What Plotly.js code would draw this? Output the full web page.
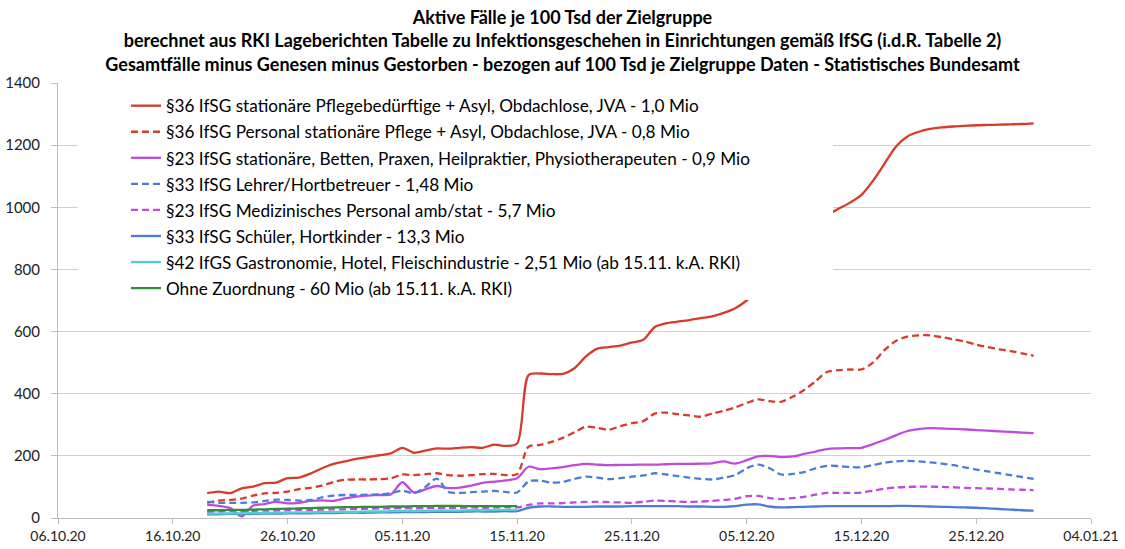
<!DOCTYPE html>
<html><head><meta charset="utf-8">
<script src="https://cdn.plot.ly/plotly-3.0.1.min.js"></script>
<style>html,body{margin:0;padding:0;background:#fff;} #chart{width:1125px;height:549px;}</style>
</head><body><div id="chart"></div>
<script>
const dates = ['2020-10-19','2020-10-20','2020-10-21','2020-10-22','2020-10-23','2020-10-24','2020-10-25','2020-10-26','2020-10-27','2020-10-28',
'2020-10-29','2020-10-30','2020-10-31','2020-11-01','2020-11-02','2020-11-03','2020-11-04','2020-11-05','2020-11-06','2020-11-07',
'2020-11-08','2020-11-09','2020-11-10','2020-11-11','2020-11-12','2020-11-13','2020-11-14','2020-11-15',
'2020-11-16','2020-11-17','2020-11-18','2020-11-19','2020-11-20','2020-11-21','2020-11-22','2020-11-23','2020-11-24','2020-11-25',
'2020-11-26','2020-11-27','2020-11-28','2020-11-29','2020-11-30','2020-12-01','2020-12-02','2020-12-03','2020-12-04','2020-12-05',
'2020-12-06','2020-12-07','2020-12-08','2020-12-09','2020-12-10','2020-12-11','2020-12-12','2020-12-13','2020-12-14','2020-12-15',
'2020-12-16','2020-12-17','2020-12-18','2020-12-19','2020-12-20','2020-12-21','2020-12-22','2020-12-23','2020-12-24','2020-12-25',
'2020-12-26','2020-12-27','2020-12-28','2020-12-29','2020-12-30'];

const seriesNames = [
  '§36 IfSG stationäre Pflegebedürftige + Asyl, Obdachlose, JVA - 1,0 Mio',
  '§36 IfSG Personal stationäre Pflege + Asyl, Obdachlose, JVA - 0,8 Mio',
  '§23 IfSG stationäre, Betten, Praxen, Heilpraktier, Physiotherapeuten - 0,9 Mio',
  '§33 IfSG Lehrer/Hortbetreuer - 1,48 Mio',
  '§23 IfSG Medizinisches Personal amb/stat - 5,7 Mio',
  '§33 IfSG Schüler, Hortkinder - 13,3 Mio',
  '§42 IfGS Gastronomie, Hotel, Fleischindustrie - 2,51 Mio (ab 15.11. k.A. RKI)',
  'Ohne Zuordnung - 60 Mio (ab 15.11. k.A. RKI)'
];

const pflegeStationaer = [80,85,80,95,101,112,114,128,130,143,
 160,174,182,190,196,202,208,226,210,217,
 224,223,226,228,226,236,232,240,
 460,465,463,464,482,520,545,550,555,565,
 574,615,627,632,637,643,649,660,675,700,
 735,775,820,865,910,945,975,995,1015,1040,
 1085,1140,1195,1228,1243,1252,1257,1260,1262,1264,
 1265,1266,1267,1268,1270];
const pflegePersonal = [49,56,58,62,72,79,81,85,93,97,
 104,116,123,124,124,125,128,140,138,141,
 144,138,136,138,141,142,138,141,
 230,235,245,258,276,294,290,284,296,305,
 312,336,339,334,330,326,336,345,356,370,
 382,376,374,390,412,440,470,476,478,478,
 500,540,570,584,588,588,582,575,568,558,
 550,543,537,530,522];
const stationaer23 = [42,39,32,5,40,45,52,47,49,55,
 57,55,63,69,72,74,76,115,82,92,
 103,96,98,104,113,117,121,128,
 165,157,160,164,170,174,172,170,171,171,
 172,172,173,174,174,175,176,182,175,186,
 198,200,196,198,206,214,222,224,225,226,
 238,251,266,280,286,289,288,287,285,283,
 281,279,277,275,273];
const lehrer = [52,49,49,49,50,55,59,58,56,58,
 66,72,74,74,75,76,80,88,80,100,
 127,84,81,83,85,87,84,82,
 118,120,114,116,126,133,130,125,128,133,
 137,144,140,135,130,126,124,130,138,160,
 172,160,140,142,148,160,168,167,164,163,
 170,178,182,184,182,179,175,170,163,156,
 150,144,138,132,126];
const medPersonal = [20,21,22,21,23,24,24,25,26,25,
 27,28,28,29,30,31,31,32,31,32,
 33,32,33,34,33,34,35,34,
 42,47,47,48,50,52,52,51,50,49,
 52,56,55,53,52,53,55,58,62,70,
 71,64,61,64,68,75,81,81,81,82,
 88,94,98,100,101,101,100,99,97,96,
 95,94,92,91,90];
const schueler = [12,12,13,13,13,14,14,15,15,15,
 16,16,17,17,17,18,18,19,19,19,
 20,20,20,21,21,21,22,22,
 33,37,37,36,36,36,37,37,37,38,
 38,38,38,38,37,37,36,36,38,43,
 44,37,34,35,36,37,38,38,38,38,
 38,38,39,39,38,37,36,35,34,33,
 31,29,27,25,24];
const gastro = [14,14,15,15,16,16,17,17,18,18,
 19,19,20,20,21,21,22,23,22,23,
 24,24,24,25,25,26,26,26,
 null,null,null,null,null,null,null,null,null,null,
 null,null,null,null,null,null,null,null,null,null,
 null,null,null,null,null,null,null,null,null,null,
 null,null,null,null,null,null,null,null,null,null,
 null,null,null,null,null];
const ohneZuordnung = [25,25,26,26,27,28,29,30,31,32,
 33,34,35,35,36,36,37,37,38,38,
 39,39,39,38,38,38,38,38,
 null,null,null,null,null,null,null,null,null,null,
 null,null,null,null,null,null,null,null,null,null,
 null,null,null,null,null,null,null,null,null,null,
 null,null,null,null,null,null,null,null,null,null,
 null,null,null,null,null];

const yTickVals = [0,200,400,600,800,1000,1200,1400];

const seriesValues = [pflegeStationaer, pflegePersonal, stationaer23, lehrer, medPersonal, schueler, gastro, ohneZuordnung];
const colors = ['#d83b2a','#d83b2a','#bf4bdc','#4a7ed6','#bf4bdc','#4a7ed6','#4fd0d6','#2f8f3a'];
const dashes = ['solid','7px,4px','solid','7px,4px','7px,4px','solid','solid','solid'];

const traces = seriesValues.map((vals, i) => ({
  type: 'scatter', mode: 'lines', x: dates, y: vals, name: seriesNames[i],
  legendgroup: 'g' + i,
  line: {color: colors[i], width: 2.3, dash: dashes[i], shape: 'spline', smoothing: 0.8},
  connectgaps: false, hoverinfo: 'skip'
}));

// plot area px: x 58.5..1090.7, y 83..518
const L = 58, R = 34, T = 83, B = 31;
const pw = 1125 - L - R, ph = 549 - T - B;
const px2x = p => (p - L) / pw;
const py2y = p => (549 - B - p) / ph;

const layout = {
  width: 1125, height: 549,
  margin: {l: L, r: R, t: T, b: B, pad: 0},
  paper_bgcolor: '#ffffff', plot_bgcolor: '#ffffff',
  font: {family: 'Lato, sans-serif', color: '#000000', size: 15},
  title: {
    text: '<b>Aktive Fälle je 100 Tsd der Zielgruppe<br>berechnet aus RKI Lageberichten Tabelle zu Infektionsgeschehen in Einrichtungen gemäß IfSG (i.d.R. Tabelle 2)<br>Gesamtfälle minus Genesen minus Gestorben - bezogen auf 100 Tsd je Zielgruppe Daten - Statistisches Bundesamt</b>',
    x: 0.5, xanchor: 'center', xref: 'container',
    y: 1 - 24/549, yanchor: 'top', yref: 'container',
    font: {family: 'Lato, sans-serif', size: 18, color: '#000000'}
  },
  xaxis: {
    type: 'date', range: ['2020-10-06', '2021-01-04'],
    tick0: '2020-10-06', dtick: 864000000, tickformat: '%d.%m.%y',
    showgrid: false, showline: true, linecolor: '#bdbdbd', linewidth: 1,
    ticks: 'outside', ticklen: 5, tickcolor: '#bdbdbd',
    tickfont: {family: 'Lato, sans-serif', size: 14, color: '#222222'},
    zeroline: false, fixedrange: true
  },
  yaxis: {
    range: [0, 1400], tickvals: yTickVals, ticktext: yTickVals.map(String),
    showgrid: true, gridcolor: '#d0d0d0', gridwidth: 1,
    showline: true, linecolor: '#bdbdbd', linewidth: 1,
    ticks: 'outside', ticklen: 6, tickcolor: '#bdbdbd',
    ticklabelstandoff: 8,
    tickfont: {family: 'Lato, sans-serif', size: 15, color: '#222222'},
    zeroline: false, fixedrange: true
  },
  shapes: [{
    type: 'rect', xref: 'paper', yref: 'paper', layer: 'above',
    x0: px2x(78), x1: px2x(833), y0: py2y(300), y1: py2y(90),
    fillcolor: '#ffffff', line: {width: 0}
  }],
  legend: {
    x: px2x(126), xanchor: 'left', y: py2y(88), yanchor: 'top',
    bgcolor: 'rgba(0,0,0,0)', borderwidth: 0,
    font: {family: 'Lato, sans-serif', size: 17.2, color: '#000000'},
    tracegroupgap: 0.7, itemwidth: 30, traceorder: 'grouped'
  },
  showlegend: true
};

Plotly.newPlot('chart', traces, layout, {displayModeBar: false, staticPlot: true});
</script>
</body></html>
